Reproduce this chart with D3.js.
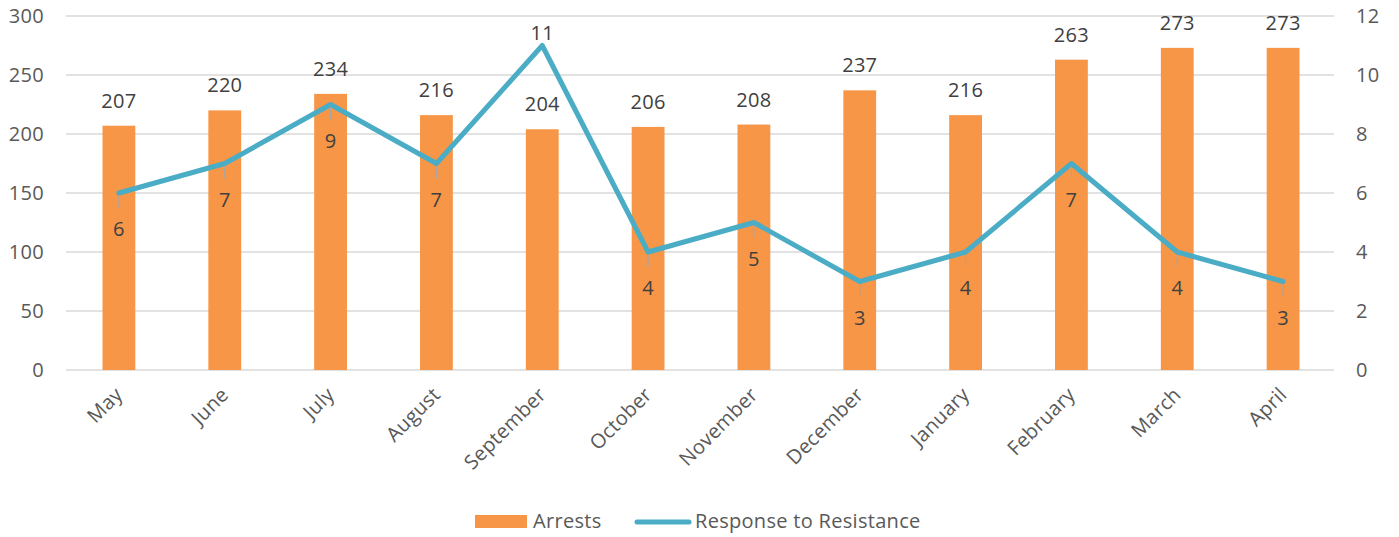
<!DOCTYPE html>
<html><head><meta charset="utf-8">
<script src="https://cdn.jsdelivr.net/npm/d3@7"></script>
<style>body{margin:0;background:#fff}svg{display:block}text{font-family:"Open Sans",sans-serif;letter-spacing:0.3px}</style>
</head><body><svg id="c" width="1399" height="537"></svg>
<script>
const months = ["May","June","July","August","September","October","November","December","January","February","March","April"];
const arrests = [207,220,234,216,204,206,208,237,216,263,273,273];
const resistance = [6,7,9,7,11,4,5,3,4,7,4,3];
const leftTicks = [0,50,100,150,200,250,300];
const rightTicks = [0,2,4,6,8,10,12];

const svg = d3.select("#c");
const L = 66, R = 1336, T = 16, B = 370;
const FF = "'Open Sans',sans-serif";
const x = d3.scaleBand().domain(months).range([L, R]).paddingInner(0.69).paddingOuter(0.345);
const yL = d3.scaleLinear().domain([0,300]).range([B,T]);
const yR = d3.scaleLinear().domain([0,12]).range([B,T]);
const cx = d => x(d) + x.bandwidth()/2;
const axisCol = "#595959", labCol = "#404040", fs = 20;

// gridlines
svg.append("g").selectAll("line").data(leftTicks).join("line")
  .attr("x1", L).attr("x2", R-2).attr("y1", d=>yL(d)).attr("y2", d=>yL(d))
  .attr("stroke", "#d9d9d9").attr("stroke-width", 1.5);

// left axis
const gl = svg.append("g").attr("transform", `translate(${L},0)`)
  .call(d3.axisLeft(yL).tickValues(leftTicks).tickSize(0).tickPadding(22));
gl.select(".domain").remove();
gl.selectAll("text").attr("fill", axisCol).style("font-size", fs+"px").attr("font-family",FF);

// right axis
const gr = svg.append("g").attr("transform", `translate(${R},0)`)
  .call(d3.axisRight(yR).tickValues(rightTicks).tickSize(0).tickPadding(20));
gr.select(".domain").remove();
gr.selectAll("text").attr("fill", axisCol).style("font-size", fs+"px").attr("font-family",FF);

// bars
svg.append("g").selectAll("rect").data(months).join("rect")
  .attr("x", d=>x(d)).attr("width", x.bandwidth())
  .attr("y", (d,i)=>yL(arrests[i])).attr("height", (d,i)=>B - yL(arrests[i]))
  .attr("fill", "#F79646");

// bar labels
svg.append("g").selectAll("text").data(months).join("text")
  .attr("x", d=>cx(d)).attr("y", (d,i)=>yL(arrests[i]) - 18)
  .attr("text-anchor","middle").attr("fill", labCol).style("font-size", fs+"px")
  .text((d,i)=>arrests[i]);

// x axis labels
const gx = svg.append("g").attr("transform", `translate(0,${B})`)
  .call(d3.axisBottom(x).tickSize(0).tickPadding(0));
gx.select(".domain").remove();
gx.selectAll("text").attr("fill", axisCol).style("font-size", fs+"px")
  .attr("font-family",FF)
  .attr("text-anchor","end").attr("dy", null)
  .attr("transform", "translate(5,26) rotate(-45)");

// line
const line = d3.line().x((d,i)=>cx(months[i])).y(d=>yR(d));
svg.append("path").datum(resistance).attr("d", line)
  .attr("fill","none").attr("stroke","#4BACC6").attr("stroke-width",5)
  .attr("stroke-linejoin","round").attr("stroke-linecap","round");

// line labels
const lg = svg.append("g");
resistance.forEach((v,i)=>{
  const px = cx(months[i]), py = yR(v);
  if (i === 4) {
    lg.append("text").attr("x", px).attr("y", py - 6).attr("text-anchor","middle")
      .attr("fill", labCol).style("font-size", fs+"px").text(v);
  } else {
    lg.append("line").attr("x1", px).attr("x2", px).attr("y1", py+3).attr("y2", py+15)
      .attr("stroke","#a6a6a6").attr("stroke-width",1.2);
    lg.append("text").attr("x", px).attr("y", py + 43).attr("text-anchor","middle")
      .attr("fill", labCol).style("font-size", fs+"px").text(v);
  }
});

// legend
const leg = svg.append("g");
leg.append("rect").attr("x",475).attr("y",515).attr("width",52).attr("height",13).attr("fill","#F79646");
leg.append("text").attr("x",533).attr("y",528).attr("fill",axisCol).style("font-size",fs+"px").text("Arrests");
leg.append("line").attr("x1",637).attr("x2",689).attr("y1",522).attr("y2",522)
  .attr("stroke","#4BACC6").attr("stroke-width",5).attr("stroke-linecap","round");
leg.append("text").attr("x",695).attr("y",528).attr("fill",axisCol).style("font-size",fs+"px").text("Response to Resistance");
</script></body></html>
